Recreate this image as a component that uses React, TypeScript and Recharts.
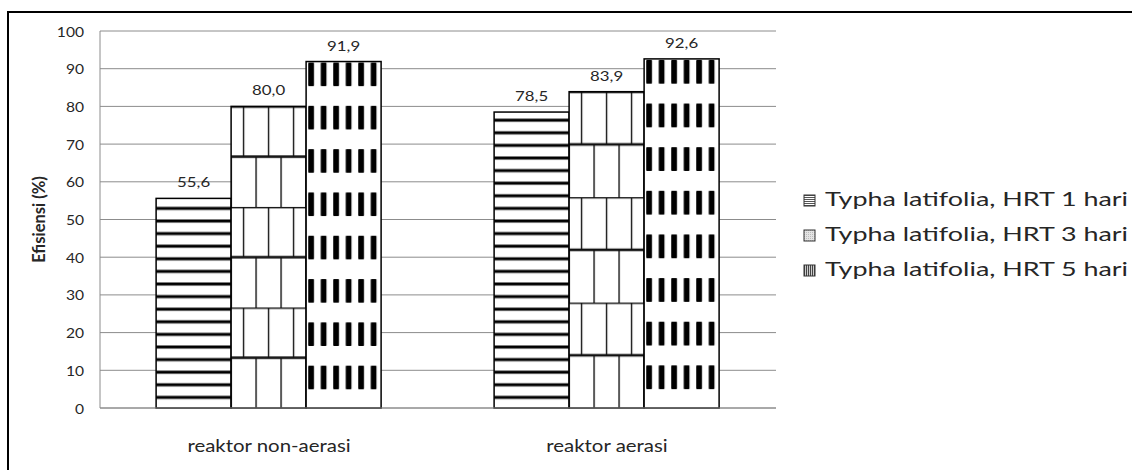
import React from "react";
import { Bar, BarChart, CartesianGrid, LabelList, XAxis, YAxis } from "recharts";

const categories = ["reaktor non-aerasi", "reaktor aerasi"];
const hrt1 = [55.6, 78.5];
const hrt3 = [80.0, 83.9];
const hrt5 = [91.9, 92.6];
const seriesNames = ["Typha latifolia, HRT 1 hari", "Typha latifolia, HRT 3 hari", "Typha latifolia, HRT 5 hari"];
const yTicks = [0, 10, 20, 30, 40, 50, 60, 70, 80, 90, 100];
const yLabel = "Efisiensi (%)";

const data = categories.map((name, i) => ({ name, h1: hrt1[i], h3: hrt3[i], h5: hrt5[i] }));

const FONT = "Lato, 'Open Sans', sans-serif";
const TEXT = "#262626";
const GRID = "#8c8c8c";

// the source image is stretched sideways, so text gets a horizontal scale
function StretchText({ x, y, sx, size, anchor = "middle", weight = 400, fill = TEXT, children }: any) {
  return (
    <text
      transform={`translate(${x} ${y}) scale(${sx} 1)`}
      textAnchor={anchor}
      fontSize={size}
      fontWeight={weight}
      fontFamily={FONT}
      fill={fill}
    >
      {children}
    </text>
  );
}

// horizontal stripes, tiled up from the bar base
function StripeBar(props: any) {
  const { x, y, width, height, index } = props;
  if (!height) return null;
  const id = `pat-h1-${index}`;
  const step = 12.6;
  return (
    <g>
      <defs>
        <pattern id={id} patternUnits="userSpaceOnUse" x={x} y={y + height} width={width} height={step}>
          <rect width={width} height={step} fill="#fff" />
          <rect y={0} width={width} height={4} fill="#b0b0b0" />
          <rect y={0.7} width={width} height={2.6} fill="#000" />
        </pattern>
      </defs>
      <rect x={x} y={y} width={width} height={height} fill={`url(#${id})`} stroke="#000" strokeWidth={1.5} />
    </g>
  );
}

// brick pattern: 3 columns, 6 rows per bar
function BrickBar(props: any) {
  const { x, y, width, height, index } = props;
  if (!height) return null;
  const id = `pat-h3-${index}`;
  const w = width / 3;
  const h = height / 3;
  return (
    <g>
      <defs>
        <pattern id={id} patternUnits="userSpaceOnUse" x={x} y={y} width={w} height={h}>
          <rect width={w} height={h} fill="#fff" />
          <rect y={-1.2} width={w} height={2.6} fill="#111" />
          <rect y={h / 2 - 1.3} width={w} height={2.6} fill="#111" />
          <rect x={w / 2 - 0.7} y={0} width={1.4} height={h / 2} fill="#111" />
          <rect x={-0.7} y={h / 2} width={1.4} height={h / 2} fill="#111" />
          <rect x={w - 0.7} y={h / 2} width={1.4} height={h / 2} fill="#111" />
        </pattern>
      </defs>
      <rect x={x} y={y} width={width} height={height} fill={`url(#${id})`} stroke="#000" strokeWidth={1.5} />
    </g>
  );
}

// vertical dashes: 6 across, 8 rows per bar
function DashBar(props: any) {
  const { x, y, width, height, index } = props;
  if (!height) return null;
  const id = `pat-h5-${index}`;
  const w = width / 6;
  const h = height / 8;
  return (
    <g>
      <defs>
        <pattern id={id} patternUnits="userSpaceOnUse" x={x} y={y} width={w} height={h}>
          <rect width={w} height={h} fill="#fff" />
          <rect x={w * 0.17} y={h * 0.02} width={w * 0.46} height={h * 0.55} rx={0.8} fill="#000" />
        </pattern>
      </defs>
      <rect x={x} y={y} width={width} height={height} fill={`url(#${id})`} stroke="#000" strokeWidth={1.5} />
    </g>
  );
}

function ValueLabel(props: any) {
  const { x, y, width, value } = props;
  return (
    <StretchText x={x + width / 2} y={y - 11} sx={1.2} size={14}>
      {Number(value).toFixed(1).replace(".", ",")}
    </StretchText>
  );
}

function YTick(props: any) {
  const { x, y, payload } = props;
  return (
    <StretchText x={x} y={y + 5.5} sx={1.25} size={12.5} anchor="end">
      {payload.value}
    </StretchText>
  );
}

function XTick(props: any) {
  const { x, y, payload } = props;
  return (
    <StretchText x={x} y={y + 43.5} sx={1.2} size={17}>
      {payload.value}
    </StretchText>
  );
}

function YTitle(props: any) {
  const { viewBox } = props;
  const cx = 45;
  const cy = viewBox.y + viewBox.height / 2;
  return (
    <text
      x={cx}
      y={cy}
      transform={`rotate(-90 ${cx} ${cy})`}
      textAnchor="middle"
      fontSize={16.5}
      fontWeight={700}
      fontFamily={FONT}
      fill={TEXT}
    >
      {yLabel}
    </text>
  );
}

function LegendIcon({ kind, x, y }: { kind: number; x: number; y: number }) {
  const id = `leg-${kind}`;
  return (
    <g>
      <defs>
        {kind === 0 && (
          <pattern id={id} patternUnits="userSpaceOnUse" x={x} y={y} width={10} height={2}>
            <rect width={10} height={2} fill="#fff" />
            <rect width={10} height={1} fill="#555" />
          </pattern>
        )}
        {kind === 1 && (
          <pattern id={id} patternUnits="userSpaceOnUse" x={x} y={y} width={2} height={2}>
            <rect width={2} height={2} fill="#e4e4e4" />
            <rect width={1} height={1} fill="#bbb" />
          </pattern>
        )}
        {kind === 2 && (
          <pattern id={id} patternUnits="userSpaceOnUse" x={x} y={y} width={2} height={3}>
            <rect width={2} height={3} fill="#ccc" />
            <rect width={1} height={3} fill="#444" />
          </pattern>
        )}
      </defs>
      <rect x={x} y={y} width={11} height={11} fill={`url(#${id})`} stroke="#333" strokeWidth={1} />
    </g>
  );
}

export default function App() {
  return (
    <div style={{ position: "relative", width: 1132, height: 470, overflow: "hidden", background: "#fff" }}>
      <style>{`body{margin:0}`}</style>
      <div
        style={{
          position: "absolute",
          left: 7,
          top: 11,
          width: 1300,
          height: 600,
          border: "2px solid #000",
          boxSizing: "border-box",
        }}
      />
      <div style={{ position: "absolute", left: 0, top: 0 }}>
        <BarChart
          width={1132}
          height={470}
          data={data}
          margin={{ top: 31, right: 356, bottom: 0, left: 20 }}
          barCategoryGap="16.6%"
          barGap={0}
        >
          <CartesianGrid vertical={false} stroke={GRID} />
          <XAxis
            dataKey="name"
            height={62}
            stroke={GRID}
            tickLine={false}
            tickSize={0}
            tickMargin={0}
            tick={<XTick />}
          />
          <YAxis
            width={80}
            domain={[0, 100]}
            ticks={yTicks}
            interval={0}
            stroke={GRID}
            tickLine={false}
            tickSize={0}
            tickMargin={16}
            tick={<YTick />}
            label={{ content: <YTitle /> }}
          />
          <Bar dataKey="h1" name={seriesNames[0]} shape={(p: any) => <StripeBar {...p} />} isAnimationActive={false}>
            <LabelList dataKey="h1" content={<ValueLabel />} />
          </Bar>
          <Bar dataKey="h3" name={seriesNames[1]} shape={(p: any) => <BrickBar {...p} />} isAnimationActive={false}>
            <LabelList dataKey="h3" content={<ValueLabel />} />
          </Bar>
          <Bar dataKey="h5" name={seriesNames[2]} shape={(p: any) => <DashBar {...p} />} isAnimationActive={false}>
            <LabelList dataKey="h5" content={<ValueLabel />} />
          </Bar>
        </BarChart>
      </div>
      <svg width={1132} height={470} style={{ position: "absolute", left: 0, top: 0, pointerEvents: "none" }}>
        {seriesNames.map((name, i) => (
          <g key={name}>
            <LegendIcon kind={i} x={804} y={195 + i * 35} />
            <StretchText x={825} y={206 + i * 35} sx={1.38} size={19.5} anchor="start">
              {name}
            </StretchText>
          </g>
        ))}
      </svg>
    </div>
  );
}
